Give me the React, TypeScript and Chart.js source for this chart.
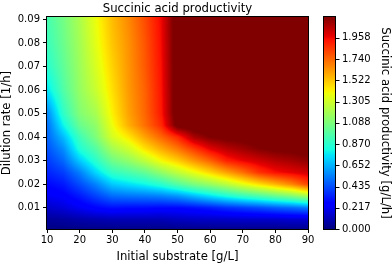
import React, { useEffect, useRef } from "react";
import { Chart, registerables } from "chart.js";

Chart.register(...registerables);

// ---------------- data ----------------
const substrate = [10, 15, 20, 25, 30, 35, 40, 45, 50, 55, 60, 65, 70, 75, 80, 85, 90];
const dilution = [0, 0.005, 0.01, 0.015, 0.02, 0.025, 0.03, 0.035, 0.04, 0.045, 0.05, 0.06, 0.07, 0.08, 0.09];

// productivity [g/L/h], one array per dilution rate, values for each substrate column
const p_0000 = [0, 0, 0, 0, 0, 0, 0, 0, 0, 0, 0, 0, 0, 0, 0, 0, 0];
const p_0005 = [0.05, 0.06, 0.08, 0.09, 0.10, 0.10, 0.10, 0.10, 0.12, 0.13, 0.13, 0.135, 0.14, 0.14, 0.14, 0.15, 0.15];
const p_0010 = [0.14, 0.17, 0.22, 0.27, 0.30, 0.29, 0.29, 0.28, 0.28, 0.30, 0.33, 0.37, 0.40, 0.43, 0.47, 0.50, 0.54];
const p_0015 = [0.22, 0.25, 0.32, 0.41, 0.50, 0.52, 0.53, 0.55, 0.59, 0.67, 0.75, 0.83, 0.90, 0.96, 1.03, 1.10, 1.20];
const p_0020 = [0.28, 0.32, 0.43, 0.55, 0.70, 0.75, 0.80, 0.87, 0.98, 1.08, 1.16, 1.25, 1.36, 1.46, 1.56, 1.67, 1.82];
const p_0025 = [0.34, 0.40, 0.54, 0.73, 0.89, 0.95, 1.02, 1.14, 1.26, 1.37, 1.48, 1.60, 1.72, 1.86, 1.94, 1.98, 2.02];
const p_0030 = [0.39, 0.49, 0.70, 0.87, 1.05, 1.14, 1.26, 1.40, 1.50, 1.63, 1.75, 1.90, 1.97, 2.02, 2.07, 2.10, 2.14];
const p_0035 = [0.44, 0.57, 0.84, 0.98, 1.19, 1.30, 1.45, 1.58, 1.70, 1.84, 1.98, 2.06, 2.11, 2.16, 2.19, 2.20, 2.22];
const p_0040 = [0.48, 0.67, 0.92, 1.09, 1.32, 1.44, 1.60, 1.74, 1.88, 2.09, 2.17, 2.20, 2.21, 2.23, 2.25, 2.26, 2.28];
const p_0045 = [0.50, 0.79, 1.03, 1.14, 1.38, 1.57, 1.72, 1.88, 2.22, 2.25, 2.26, 2.27, 2.28, 2.30, 2.30, 2.30, 2.30];
const p_0050 = [0.55, 0.88, 1.10, 1.20, 1.42, 1.60, 1.74, 1.92, 2.25, 2.30, 2.30, 2.30, 2.30, 2.30, 2.30, 2.30, 2.30];
const p_0060 = [0.75, 0.97, 1.15, 1.29, 1.46, 1.62, 1.75, 1.93, 2.25, 2.30, 2.30, 2.30, 2.30, 2.30, 2.30, 2.30, 2.30];
const p_0070 = [0.86, 1.01, 1.17, 1.33, 1.49, 1.63, 1.77, 1.94, 2.25, 2.30, 2.30, 2.30, 2.30, 2.30, 2.30, 2.30, 2.30];
const p_0080 = [0.91, 1.04, 1.19, 1.36, 1.52, 1.64, 1.78, 1.95, 2.25, 2.30, 2.30, 2.30, 2.30, 2.30, 2.30, 2.30, 2.30];
const p_0090 = [0.94, 1.06, 1.21, 1.38, 1.54, 1.66, 1.80, 1.96, 2.25, 2.30, 2.30, 2.30, 2.30, 2.30, 2.30, 2.30, 2.30];
const productivityRows = [p_0000, p_0005, p_0010, p_0015, p_0020, p_0025, p_0030, p_0035, p_0040, p_0045, p_0050, p_0060, p_0070, p_0080, p_0090];

const xTicks = [10, 20, 30, 40, 50, 60, 70, 80, 90];
const yTicks = [0.01, 0.02, 0.03, 0.04, 0.05, 0.06, 0.07, 0.08, 0.09];
const cbTicks = [0.0, 0.217, 0.435, 0.652, 0.87, 1.088, 1.305, 1.522, 1.74, 1.958];

const xRange = [10, 90];
const yRange = [0.001, 0.091];
const cbRange = [0, 2.17];

const TITLE = "Succinic acid productivity";
const X_TITLE = "Initial substrate [g/L]";
const Y_TITLE = "Dilution rate [1/h]";
const CB_TITLE = "Succinic acid productivity [g/L/h]";

// ---------------- helpers ----------------
const FONT = "'DejaVu Sans', sans-serif";

const JET: Record<string, number[][]> = {
  r: [[0, 0], [0.35, 0], [0.66, 1], [0.89, 1], [1, 0.5]],
  g: [[0, 0], [0.125, 0], [0.375, 1], [0.64, 1], [0.91, 0], [1, 0]],
  b: [[0, 0.5], [0.11, 1], [0.34, 1], [0.65, 0], [1, 0]],
};
function seg(points: number[][], t: number) {
  for (let i = 0; i < points.length - 1; i++) {
    const [x0, y0] = points[i];
    const [x1, y1] = points[i + 1];
    if (t <= x1) return y0 + ((y1 - y0) * (t - x0)) / (x1 - x0);
  }
  return points[points.length - 1][1];
}
function jet(t: number): [number, number, number] {
  const u = Math.max(0, Math.min(1, t));
  return [Math.round(seg(JET.r, u) * 255), Math.round(seg(JET.g, u) * 255), Math.round(seg(JET.b, u) * 255)];
}
function locate(arr: number[], v: number): [number, number] {
  const n = arr.length;
  if (v <= arr[0]) return [0, 0];
  if (v >= arr[n - 1]) return [n - 2, 1];
  for (let i = 0; i < n - 1; i++) {
    if (v <= arr[i + 1]) return [i, (v - arr[i]) / (arr[i + 1] - arr[i])];
  }
  return [n - 2, 1];
}
function sample(S: number, D: number) {
  const [j, tx] = locate(substrate, S);
  const [i, ty] = locate(dilution, D);
  const r0 = productivityRows[i];
  const r1 = productivityRows[i + 1];
  const a = r0[j] * (1 - tx) + r0[j + 1] * tx;
  const b = r1[j] * (1 - tx) + r1[j + 1] * tx;
  return a * (1 - ty) + b * ty;
}

const CB_GAP = 16;
const CB_WIDTH = 11;
const CB_TICK = 4;

const heatmapPlugin = {
  id: "heatmap",
  beforeDatasetsDraw(chart: any) {
    const { ctx, chartArea, scales } = chart;
    const xs = scales.x;
    const ys = scales.y;
    const cb = scales.cb;
    const left = Math.round(chartArea.left);
    const top = Math.round(chartArea.top);
    const w = Math.round(chartArea.right) - left;
    const h = Math.round(chartArea.bottom) - top;
    const off = document.createElement("canvas");
    off.width = w;
    off.height = h;
    const octx = off.getContext("2d")!;
    const img = octx.createImageData(w, h);
    const span = cbRange[1] - cbRange[0];
    for (let j = 0; j < h; j++) {
      const D = ys.getValueForPixel(top + j + 0.5);
      for (let i = 0; i < w; i++) {
        const S = xs.getValueForPixel(left + i + 0.5);
        const [r, g, b] = jet((sample(S, D) - cbRange[0]) / span);
        const k = (j * w + i) * 4;
        img.data[k] = r;
        img.data[k + 1] = g;
        img.data[k + 2] = b;
        img.data[k + 3] = 255;
      }
    }
    octx.putImageData(img, 0, 0);
    ctx.save();
    ctx.drawImage(off, left, top);
    ctx.restore();

    // colorbar gradient
    const cbLeft = Math.round(cb.left + CB_GAP);
    const cbTop = Math.round(cb.top);
    const cbH = Math.round(cb.bottom) - cbTop;
    const bar = document.createElement("canvas");
    bar.width = CB_WIDTH;
    bar.height = cbH;
    const bctx = bar.getContext("2d")!;
    const bimg = bctx.createImageData(CB_WIDTH, cbH);
    for (let j = 0; j < cbH; j++) {
      const v = cb.getValueForPixel(cbTop + j + 0.5);
      const [r, g, b] = jet((v - cbRange[0]) / span);
      for (let i = 0; i < CB_WIDTH; i++) {
        const k = (j * CB_WIDTH + i) * 4;
        bimg.data[k] = r;
        bimg.data[k + 1] = g;
        bimg.data[k + 2] = b;
        bimg.data[k + 3] = 255;
      }
    }
    bctx.putImageData(bimg, 0, 0);
    ctx.drawImage(bar, cbLeft, cbTop);
  },
  afterDraw(chart: any) {
    const { ctx, chartArea, scales } = chart;
    const cb = scales.cb;
    ctx.save();
    ctx.strokeStyle = "#000";
    ctx.lineWidth = 1;
    const l = Math.round(chartArea.left) - 0.5;
    const t = Math.round(chartArea.top) - 0.5;
    const r = Math.round(chartArea.right) + 0.5;
    const b = Math.round(chartArea.bottom) + 0.5;
    ctx.strokeRect(l, t, r - l, b - t);
    // colorbar outline and ticks
    const cbLeft = Math.round(cb.left + CB_GAP) - 0.5;
    const cbTop = Math.round(cb.top) - 0.5;
    const cbBottom = Math.round(cb.bottom) + 0.5;
    ctx.strokeRect(cbLeft, cbTop, CB_WIDTH + 1, cbBottom - cbTop);
    const tx = cbLeft + CB_WIDTH + 1;
    ctx.beginPath();
    for (const v of cbTicks) {
      const y = Math.round(cb.getPixelForValue(v)) + 0.5;
      ctx.moveTo(tx, y);
      ctx.lineTo(tx + CB_TICK, y);
    }
    ctx.stroke();
    ctx.restore();
  },
};

export default function App() {
  const ref = useRef<HTMLCanvasElement>(null);
  useEffect(() => {
    if (!ref.current) return;
    const points: { x: number; y: number }[] = [];
    dilution.forEach((d) => substrate.forEach((s) => points.push({ x: s, y: d })));
    const tickFont = { family: FONT, size: 10 };
    const labelFont = { family: FONT, size: 11.7 };
    const chart = new Chart(ref.current, {
      type: "scatter",
      data: {
        datasets: [
          {
            label: "productivity grid",
            data: points,
            pointRadius: 0,
            pointHoverRadius: 0,
            showLine: false,
          },
        ],
      },
      options: {
        responsive: false,
        animation: false,
        devicePixelRatio: 1,
        layout: { padding: 0 },
        plugins: {
          legend: { display: false },
          tooltip: { enabled: false },
          title: {
            display: true,
            text: TITLE,
            fullSize: false,
            color: "#000",
            font: { ...labelFont, weight: "normal" },
            padding: { top: 2, bottom: 1 },
          },
        },
        scales: {
          x: {
            type: "linear",
            position: "bottom",
            min: xRange[0],
            max: xRange[1],
            afterBuildTicks: (s: any) => {
              s.ticks = xTicks.map((v) => ({ value: v }));
            },
            afterFit: (s: any) => {
              s.height = 35;
            },
            grid: { drawOnChartArea: false, drawTicks: true, tickLength: 4, color: "#000" },
            border: { display: false },
            ticks: { font: tickFont, color: "#000", padding: 1, maxRotation: 0, callback: (v: any) => String(v) },
            title: { display: true, text: X_TITLE, font: labelFont, color: "#000", padding: { top: 0, bottom: 0 } },
          },
          y: {
            type: "linear",
            position: "left",
            min: yRange[0],
            max: yRange[1],
            afterBuildTicks: (s: any) => {
              s.ticks = yTicks.map((v) => ({ value: v }));
            },
            afterFit: (s: any) => {
              s.width = 47;
            },
            grid: { drawOnChartArea: false, drawTicks: true, tickLength: 4, color: "#000" },
            border: { display: false },
            ticks: { font: tickFont, color: "#000", padding: 3, callback: (v: any) => Number(v).toFixed(2) },
            title: { display: true, text: Y_TITLE, font: labelFont, color: "#000", padding: { top: 0, bottom: 0 } },
          },
          cb: {
            type: "linear",
            position: "right",
            min: cbRange[0],
            max: cbRange[1],
            afterBuildTicks: (s: any) => {
              s.ticks = cbTicks.map((v) => ({ value: v }));
            },
            afterFit: (s: any) => {
              s.width = 84;
              s.paddingTop = 0;
              s.paddingBottom = 0;
            },
            grid: { display: false, drawTicks: false, drawOnChartArea: false },
            border: { display: false },
            ticks: { font: tickFont, color: "#000", padding: 34, callback: (v: any) => Number(v).toFixed(3) },
            title: { display: true, text: CB_TITLE, font: labelFont, color: "#000", padding: { top: 0, bottom: 0 } },
          },
        },
      },
      plugins: [heatmapPlugin],
    } as any);
    return () => chart.destroy();
  }, []);
  return (
    <div style={{ position: "absolute", left: 0, top: 0, width: 392, height: 264, background: "#fff" }}>
      <canvas ref={ref} width={392} height={264} style={{ display: "block" }} />
    </div>
  );
}
